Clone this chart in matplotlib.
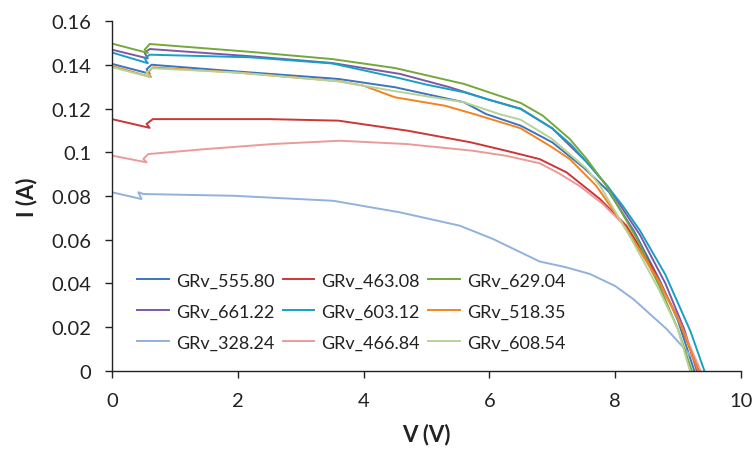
import matplotlib
matplotlib.use('Agg')
import matplotlib.pyplot as plt
from matplotlib.ticker import FuncFormatter, MultipleLocator

plt.rcParams['font.family'] = ['Lato', 'DejaVu Sans']

# series labels, in legend (column-major) order
labels = ['GRv_555.80', 'GRv_661.22', 'GRv_328.24',
          'GRv_463.08', 'GRv_603.12', 'GRv_466.84',
          'GRv_629.04', 'GRv_518.35', 'GRv_608.54']

colors = ['#3a75bd', '#7e58a6', '#92b1dc',
          '#cc3636', '#17a0c6', '#eb9a9a',
          '#73a83c', '#f5821f', '#b6d397']

# voltage (V) and current (A)
v_555 = [0, 0.60, 0.55, 0.63, 2.0, 3.6, 4.5, 5.6, 5.95, 6.5, 7.0, 7.5, 7.9, 8.3, 8.7, 9.0, 9.26]
i_555 = [0.1405, 0.1360, 0.1380, 0.1401, 0.1370, 0.1336, 0.1298, 0.1229, 0.1175, 0.1122, 0.1046,
         0.0930, 0.0820, 0.0640, 0.0420, 0.0230, 0]

v_661 = [0, 0.57, 0.52, 0.60, 2.2, 3.5, 4.58, 5.37, 6.0, 6.5, 7.0, 7.55, 7.89, 8.4, 8.8, 9.1, 9.3]
i_661 = [0.1470, 0.1430, 0.1455, 0.1473, 0.1440, 0.1409, 0.1359, 0.1298, 0.1240, 0.1200, 0.1110,
         0.0955, 0.0841, 0.0620, 0.0400, 0.0190, 0]

v_328 = [0, 0.47, 0.42, 0.50, 1.93, 3.52, 4.58, 5.53, 6.06, 6.8, 7.2, 7.6, 8.0, 8.29, 8.82, 9.25, 9.35]
i_328 = [0.0817, 0.0786, 0.0817, 0.0809, 0.0801, 0.0778, 0.0725, 0.0664, 0.0603, 0.0500, 0.0475,
         0.0443, 0.0388, 0.0328, 0.0191, 0.0054, 0]

v_463 = [0, 0.60, 0.55, 0.65, 2.5, 3.6, 4.7, 5.7, 6.27, 6.8, 7.23, 7.76, 8.18, 8.6, 9.0, 9.33]
i_463 = [0.1152, 0.1112, 0.1130, 0.1152, 0.1152, 0.1145, 0.1099, 0.1046, 0.1007, 0.0969, 0.0908,
         0.0786, 0.0664, 0.0470, 0.0240, 0]

v_603 = [0, 0.57, 0.52, 0.60, 2.2, 3.5, 4.58, 5.0, 5.6, 6.5, 7.0, 7.3, 7.55, 7.85, 8.12, 8.4, 8.8, 9.2, 9.42]
i_603 = [0.1457, 0.1408, 0.1430, 0.1447, 0.1435, 0.1407, 0.1339, 0.1310, 0.1275, 0.1198, 0.1110,
         0.1035, 0.0955, 0.0855, 0.0756, 0.0640, 0.0440, 0.0180, 0]

v_466 = [0, 0.55, 0.50, 0.58, 1.5, 2.56, 3.62, 4.68, 5.74, 6.27, 6.8, 7.1, 7.44, 7.8, 8.1, 8.5, 9.0, 9.36]
i_466 = [0.0985, 0.0954, 0.0970, 0.0992, 0.1015, 0.1038, 0.1053, 0.1038, 0.1007, 0.0984, 0.0950,
         0.0905, 0.0845, 0.0765, 0.0680, 0.0500, 0.0240, 0]

v_629 = [0, 0.57, 0.52, 0.60, 2.2, 3.5, 4.5, 5.6, 6.5, 6.85, 7.28, 7.55, 7.86, 8.35, 8.7, 9.0, 9.22]
i_629 = [0.1498, 0.1455, 0.1470, 0.1496, 0.1460, 0.1427, 0.1386, 0.1313, 0.1226, 0.1168, 0.1061,
         0.0969, 0.0847, 0.0603, 0.0390, 0.0190, 0]

v_518 = [0, 0.62, 0.57, 0.65, 2.0, 3.6, 4.0, 4.5, 5.3, 5.76, 6.5, 7.0, 7.28, 7.7, 8.2, 8.7, 9.05, 9.32]
i_518 = [0.1395, 0.1345, 0.1365, 0.1389, 0.1365, 0.1326, 0.1305, 0.1252, 0.1213, 0.1175, 0.1110,
         0.1023, 0.0969, 0.0847, 0.0640, 0.0410, 0.0210, 0]

v_608 = [0, 0.60, 0.55, 0.63, 2.0, 3.6, 4.5, 5.6, 6.16, 6.5, 7.0, 7.55, 7.76, 8.26, 8.7, 9.0, 9.19]
i_608 = [0.1390, 0.1345, 0.1365, 0.1385, 0.1365, 0.1325, 0.1280, 0.1229, 0.1175, 0.1149, 0.1061,
         0.0924, 0.0847, 0.0603, 0.0370, 0.0190, 0]

voltages = [v_555, v_661, v_328, v_463, v_603, v_466, v_629, v_518, v_608]
currents = [i_555, i_661, i_328, i_463, i_603, i_466, i_629, i_518, i_608]

fig = plt.figure(figsize=(7.54, 4.52), dpi=100)
ax = fig.add_axes([0.1485, 0.1777, 0.834, 0.773])

for v, i, lab, c in zip(voltages, currents, labels, colors):
    ax.plot(v, i, color=c, lw=1.4, label=lab)

ax.set_xlim(0, 10)
ax.set_ylim(0, 0.16)
ax.xaxis.set_major_locator(MultipleLocator(2))
ax.yaxis.set_major_locator(MultipleLocator(0.02))
ax.yaxis.set_major_formatter(FuncFormatter(lambda y, p: '%g' % round(y, 4)))

for s in ['top', 'right']:
    ax.spines[s].set_visible(False)
for s in ['left', 'bottom']:
    ax.spines[s].set_color('#222222')
    ax.spines[s].set_linewidth(1.0)
ax.tick_params(direction='out', length=5, width=1, color='#222222',
               labelsize=14.5, labelcolor='#222222')
ax.tick_params(axis='x', pad=10)
ax.tick_params(axis='y', pad=10)

ax.set_xlabel('V (V)', fontsize=16, fontweight='bold', color='#222222', labelpad=10)
ax.set_ylabel('I (A)', fontsize=16, fontweight='bold', color='#222222', labelpad=10)

ax.legend(ncol=3, loc='lower left', bbox_to_anchor=(0.04, 0.058), frameon=False,
          fontsize=13, handlelength=1.75, handletextpad=0.4, columnspacing=0.45,
          labelspacing=0.82, borderpad=0, borderaxespad=0, labelcolor='#222222')

fig.savefig('out.png', dpi=100)
